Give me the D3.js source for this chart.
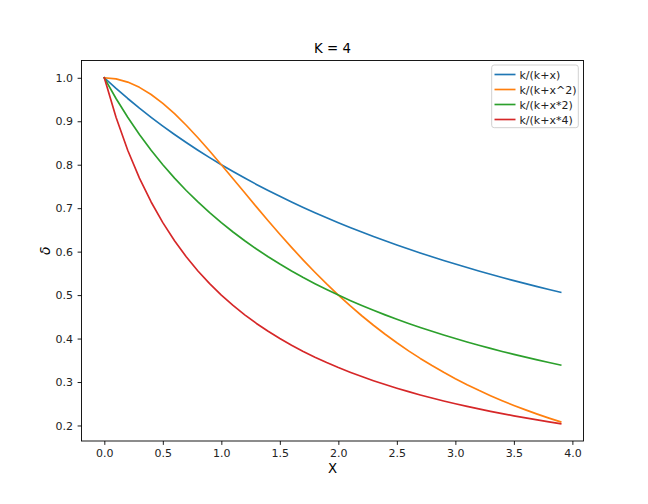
<!DOCTYPE html>
<html>
<head>
<meta charset="utf-8">
<script src="https://cdn.jsdelivr.net/npm/d3@7"></script>
<style>
  html, body { margin: 0; padding: 0; background: #fff; }
  svg { display: block; font-family: "DejaVu Sans", sans-serif; }
</style>
</head>
<body>
<svg id="chart" width="648" height="504"></svg>
<script>
const xValues = [0.0,0.1,0.2,0.3,0.4,0.5,0.6,0.7,0.8,0.9,1.0,1.1,1.2,1.3,1.4,1.5,1.6,1.7,1.8,1.9,2.0,2.1,2.2,2.3,2.4,2.5,2.6,2.7,2.8,2.9,3.0,3.1,3.2,3.3,3.4,3.5,3.6,3.7,3.8,3.9];
const seriesNames = ["k/(k+x)", "k/(k+x^2)", "k/(k+x*2)", "k/(k+x*4)"];
const s1 = [1,0.97561,0.95238,0.93023,0.90909,0.88889,0.86957,0.85106,0.83333,0.81633,0.8,0.78431,0.76923,0.75472,0.74074,0.72727,0.71429,0.70175,0.68966,0.67797,0.66667,0.65574,0.64516,0.63492,0.625,0.61538,0.60606,0.59701,0.58824,0.57971,0.57143,0.56338,0.55556,0.54795,0.54054,0.53333,0.52632,0.51948,0.51282,0.50633];
const s2 = [1,0.99751,0.9901,0.978,0.96154,0.94118,0.91743,0.89087,0.86207,0.8316,0.8,0.76775,0.73529,0.70299,0.67114,0.64,0.60976,0.58055,0.55249,0.52562,0.5,0.47562,0.45249,0.43057,0.40984,0.39024,0.37175,0.3543,0.33784,0.32232,0.30769,0.2939,0.2809,0.26864,0.25707,0.24615,0.23585,0.22612,0.21692,0.20822];
const s3 = [1,0.95238,0.90909,0.86957,0.83333,0.8,0.76923,0.74074,0.71429,0.68966,0.66667,0.64516,0.625,0.60606,0.58824,0.57143,0.55556,0.54054,0.52632,0.51282,0.5,0.4878,0.47619,0.46512,0.45455,0.44444,0.43478,0.42553,0.41667,0.40816,0.4,0.39216,0.38462,0.37736,0.37037,0.36364,0.35714,0.35088,0.34483,0.33898];
const s4 = [1,0.90909,0.83333,0.76923,0.71429,0.66667,0.625,0.58824,0.55556,0.52632,0.5,0.47619,0.45455,0.43478,0.41667,0.4,0.38462,0.37037,0.35714,0.34483,0.33333,0.32258,0.3125,0.30303,0.29412,0.28571,0.27778,0.27027,0.26316,0.25641,0.25,0.2439,0.2381,0.23256,0.22727,0.22222,0.21739,0.21277,0.20833,0.20408];
const xTicks = [0.0,0.5,1.0,1.5,2.0,2.5,3.0,3.5,4.0];
const yTicks = [0.2,0.3,0.4,0.5,0.6,0.7,0.8,0.9,1.0];
const colors = ["#1f77b4", "#ff7f0e", "#2ca02c", "#d62728"];
const allSeries = [s1, s2, s3, s4];

const L = 81.5, R = 583.5, T = 60.5, B = 441;
const svg = d3.select("#chart");

const x = d3.scaleLinear().domain([-0.195, 4.095]).range([L, R]);
const ymin = 0.20408, ymax = 1;
const pad = (ymax - ymin) * 0.05;
const y = d3.scaleLinear().domain([ymin - pad, ymax + pad]).range([B, T]);

const line = d3.line().x(d => x(d[0])).y(d => y(d[1]));
allSeries.forEach((s, i) => {
  svg.append("path")
    .datum(xValues.map((xv, j) => [xv, s[j]]))
    .attr("d", line)
    .attr("fill", "none")
    .attr("stroke", colors[i])
    .attr("stroke-width", 1.67)
    .attr("stroke-linejoin", "round")
    .attr("stroke-linecap", "square");
});

const fmt = d3.format(".1f");
const xAxis = svg.append("g").attr("transform", `translate(0,${B})`)
  .call(d3.axisBottom(x).tickValues(xTicks).tickFormat(fmt).tickSizeOuter(0).tickSize(3.9).tickPadding(4.5));
const yAxis = svg.append("g").attr("transform", `translate(${L},0)`)
  .call(d3.axisLeft(y).tickValues(yTicks).tickFormat(fmt).tickSizeOuter(0).tickSize(3.9).tickPadding(4.5));
[xAxis, yAxis].forEach(g => {
  g.select(".domain").remove();
  g.selectAll(".tick line").attr("stroke", "#000").attr("stroke-width", 0.9);
  g.selectAll(".tick text").attr("fill", "#222").style("font-size", "11px").style("font-family", "DejaVu Sans");
});

// frame
svg.append("rect").attr("x", L).attr("y", T).attr("width", R - L).attr("height", B - T)
  .attr("fill", "none").attr("stroke", "#000").attr("stroke-width", 0.9);

// title & labels
svg.append("text").attr("x", (L + R) / 2).attr("y", 53.3).attr("text-anchor", "middle")
  .style("font-size", "13.3px").attr("fill", "#000").text("K = 4");
svg.append("text").attr("x", (L + R) / 2).attr("y", 473).attr("text-anchor", "middle")
  .style("font-size", "13.3px").attr("fill", "#000").text("X");
svg.append("text").attr("transform", `translate(50,${(T + B) / 2}) rotate(-90)`).attr("text-anchor", "middle")
  .style("font-size", "14px").style("font-style", "italic").attr("fill", "#000").text("δ");

// legend
const lg = svg.append("g");
lg.append("rect").attr("x", 491.7).attr("y", 65).attr("width", 86.6).attr("height", 62.7)
  .attr("rx", 2.5).attr("fill", "#fff").attr("fill-opacity", 0.8)
  .attr("stroke", "#cccccc").attr("stroke-width", 0.9);
seriesNames.forEach((n, i) => {
  const yy = 74.5 + i * 15;
  lg.append("line").attr("x1", 494.5).attr("x2", 515.5).attr("y1", yy).attr("y2", yy)
    .attr("stroke", colors[i]).attr("stroke-width", 1.67);
  lg.append("text").attr("x", 519.5).attr("y", yy + 4).style("font-size", "11px")
    .attr("fill", "#222").text(n);
});
</script>
</body>
</html>
